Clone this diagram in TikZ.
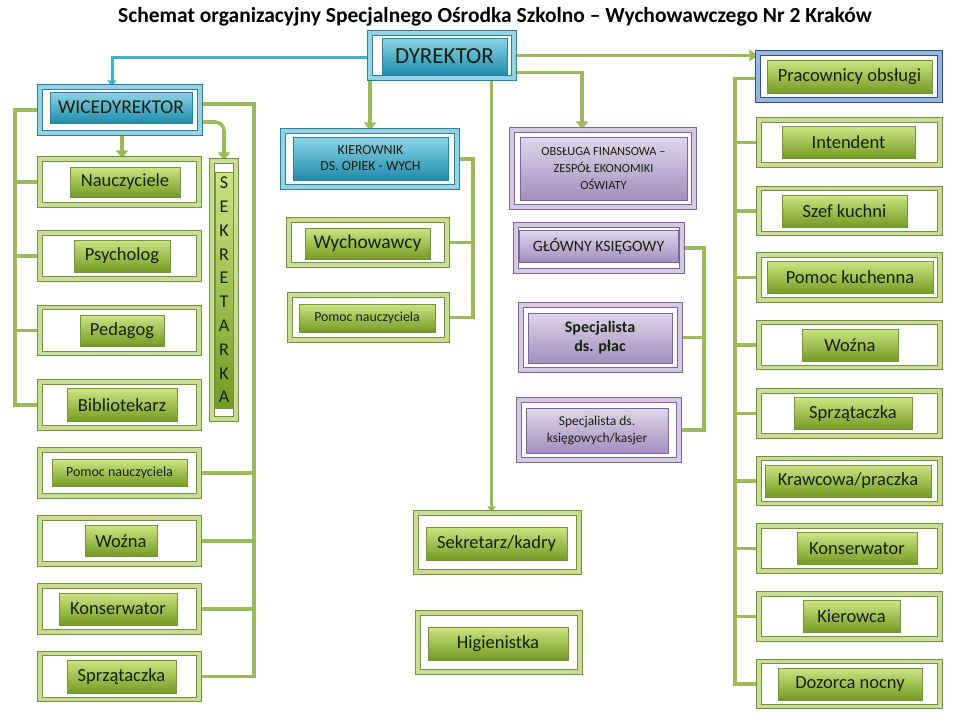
\documentclass[tikz,border=0pt]{standalone}
\usepackage{fontspec}
\setmainfont{Carlito}
\usetikzlibrary{arrows.meta,positioning,backgrounds}
\definecolor{olgreen}{RGB}{155,187,89}
\definecolor{olgreendk}{RGB}{118,146,60}
\definecolor{olgreenlt}{RGB}{200,220,150}
\definecolor{olboxtop}{RGB}{205,228,130}
\definecolor{olboxbot}{RGB}{115,155,35}
\definecolor{aqblue}{RGB}{75,172,198}
\definecolor{aqbluedk}{RGB}{40,130,160}
\definecolor{aqbluelt}{RGB}{150,210,226}
\definecolor{aqboxtop}{RGB}{140,212,232}
\definecolor{aqboxbot}{RGB}{30,140,172}
\definecolor{lvpurple}{RGB}{178,161,199}
\definecolor{lvpurpledk}{RGB}{128,100,162}
\definecolor{lvpurplelt}{RGB}{212,202,226}
\definecolor{lvboxtop}{RGB}{222,214,234}
\definecolor{lvboxbot}{RGB}{162,142,190}
\definecolor{nvblue}{RGB}{79,129,189}
\definecolor{nvbluedk}{RGB}{40,80,140}
\definecolor{nvbluelt}{RGB}{150,182,220}
\definecolor{ink}{RGB}{22,32,12}
\tikzset{
  gframe/.style={draw=olgreendk, line width=1.2pt, double=olgreenlt, double distance=3.2pt,
                 fill=white, inner sep=0pt, minimum width=159pt, minimum height=46pt},
  bframe/.style={gframe, draw=aqbluedk, double=aqbluelt},
  pframe/.style={gframe, draw=lvpurpledk, double=lvpurplelt},
  nframe/.style={gframe, draw=nvbluedk, double=nvbluelt},
  gbox/.style={rectangle, inner sep=0pt, top color=olboxtop, bottom color=olboxbot,
               draw=olgreendk, line width=0.6pt, text=ink, align=center,
               minimum height=32pt, font=\fontsize{18.5}{20}\selectfont},
  bbox/.style={gbox, top color=aqboxtop, bottom color=aqboxbot, draw=aqbluedk},
  pbox/.style={gbox, top color=lvboxtop, bottom color=lvboxbot, draw=lvpurpledk},
  link/.style={draw=olgreen, line width=3.6pt},
  garrow/.style={link, -{Triangle[width=12pt,length=8pt]}},
  barrow/.style={draw=aqblue, line width=3pt, -{Triangle[width=9pt,length=6pt]}},
  thinarrow/.style={draw=olgreen, line width=2.4pt, -{Triangle[width=8pt,length=6pt]}},
  heading/.style={font=\bfseries\fontsize{21.5}{23}\selectfont, text=black},
}
\begin{document}
\begin{tikzpicture}[x=1pt, y=-1pt]
\useasboundingbox (0,0) rectangle (960,720);

\node[heading] (title) at (495,17)
  {Schemat organizacyjny Specjalnego Ośrodka Szkolno – Wychowawczego Nr 2 Kraków};

% ================= top: director =================
\node[bframe, minimum width=144pt, minimum height=45pt] (fDyr) at (442,55.5) {};
\node[bbox, minimum width=125pt, minimum height=37pt, font=\fontsize{23}{25}\selectfont]
  (dyr) at (444.5,56.5) {DYREKTOR};

% ================= left: deputy director =================
\node[bframe, minimum width=160pt, minimum height=46pt] (fWice) at (120,110) {};
\node[bbox, minimum width=142pt, minimum height=31pt, font=\fontsize{19.5}{21}\selectfont]
  (wice) at (121,107.5) {WICEDYREKTOR};

\foreach \nm/\yy/\cx/\ww/\hh/\fs/\txt in {
    lnaucz/182/125/110/30/18.5/Nauczyciele,
    lpsych/256/122/96/32/18.5/Psycholog,
    lpeda/330.5/122/84/31/18.5/Pedagog,
    lbibl/405/122/110/33/18.5/Bibliotekarz,
    lpomoc/473/119.5/135/27/14/Pomoc nauczyciela,
    lwozna/541/121/72/31/18.5/Woźna,
    lkons/609/118/118/32/18.5/Konserwator,
    lsprz/676.5/121.5/109/33/18.5/Sprzątaczka}
{
  \node[gframe] (f\nm) at (119.5,\yy) {};
  \node[gbox, minimum width=\ww pt, minimum height=\hh pt, font=\fontsize{\fs}{\fs}\selectfont]
    (\nm) at (\cx,\yy) {\txt};
}

\node[gframe, minimum width=24pt, minimum height=258pt] (fSek) at (224,290) {};
\node[gbox, minimum width=18pt, minimum height=236pt, font=\fontsize{18}{23.8}\selectfont]
  (sek) at (224,290) {S\\E\\K\\R\\E\\T\\A\\R\\K\\A};

% ================= middle: care and education =================
\node[bframe, minimum width=174pt, minimum height=56pt] (fKier) at (370,159) {};
\node[bbox, minimum width=155pt, minimum height=43pt, font=\fontsize{13.8}{16}\selectfont]
  (kier) at (370.5,158.5) {KIEROWNIK\\DS. OPIEK - WYCH};

\node[gframe, minimum width=158pt, minimum height=45pt] (fWych) at (368,242.5) {};
\node[gbox, minimum width=125pt, minimum height=31pt, font=\fontsize{19.5}{21}\selectfont]
  (wych) at (367.5,243.5) {Wychowawcy};

\node[gframe, minimum width=157pt, minimum height=45pt] (fPomoc) at (368.5,317.5) {};
\node[gbox, minimum width=136pt, minimum height=28pt, font=\fontsize{13.8}{14}\selectfont]
  (pomoc) at (367,318) {Pomoc nauczyciela};

\node[gframe, minimum width=163pt, minimum height=59pt] (fSekr) at (497.5,542.5) {};
\node[gbox, minimum width=141pt, minimum height=33pt] (sekr) at (496.5,543.5) {Sekretarz/kadry};

\node[gframe, minimum width=162pt, minimum height=59pt] (fHig) at (499,642.5) {};
\node[gbox, minimum width=140pt, minimum height=33pt] (hig) at (498,643.5) {Higienistka};

% ================= finance =================
\node[pframe, minimum width=182pt, minimum height=77pt] (fObs) at (603,168.5) {};
\node[pbox, minimum width=167pt, minimum height=63pt, font=\fontsize{12.4}{17}\selectfont]
  (obs) at (603.5,168.5) {OBSŁUGA FINANSOWA –\\ZESPÓŁ EKONOMIKI\\OŚWIATY};

\node[pframe, minimum width=166pt, minimum height=46pt] (fGlow) at (599,248) {};
\node[pbox, minimum width=159pt, minimum height=32pt, font=\fontsize{15.8}{17}\selectfont]
  (glow) at (598.5,246) {GŁÓWNY KSIĘGOWY};

\node[pframe, minimum width=159pt, minimum height=65pt] (fPlac) at (600.5,337.5) {};
\node[pbox, minimum width=144pt, minimum height=50pt, font=\bfseries\fontsize{16}{19}\selectfont]
  (plac) at (600,338) {Specjalista\\ds. płac};

\node[pframe, minimum width=160pt, minimum height=60pt] (fKas) at (599,430) {};
\node[pbox, minimum width=142pt, minimum height=45pt, font=\fontsize{13.5}{17}\selectfont]
  (kas) at (597,430.5) {Specjalista ds.\\księgowych/kasjer};

% ================= right: service staff =================
\node[nframe, minimum width=182pt, minimum height=47pt] (fPrac) at (849,76.5) {};
\node[gbox, minimum width=165pt, minimum height=33pt] (prac) at (849.5,76.5) {Pracownicy obsługi};

\foreach \nm/\yy/\cx/\ww/\txt in {
    rint/142.5/848.5/133/Intendent,
    rszef/211/844.5/125/Szef kuchni,
    rkuch/277.5/850/166/Pomoc kuchenna,
    rwozna/345/850/96/Woźna,
    rsprz/413.5/853/118/Sprzątaczka,
    rkraw/481/848/166/{Krawcowa/praczka},
    rkons/548.5/857/120/Konserwator,
    rkier/616.5/851.5/97/Kierowca,
    rdoz/684/850/144/Dozorca nocny}
{
  \node[gframe, minimum width=181pt, minimum height=45pt] (f\nm) at (849.5,\yy) {};
  \node[gbox, minimum width=\ww pt] (\nm) at (\cx,\yy) {\txt};
}

% ================= connectors =================
\coordinate (lbus) at (15,0);
\coordinate (rbus) at (254,0);
\coordinate (kbus) at (473,0);
\coordinate (gbus) at (704,0);
\coordinate (pbus) at (735,0);

\begin{scope}[on background layer]
  \draw[barrow] ([yshift=-2pt]fDyr.west) -| ([xshift=-8pt]fWice.north);
  \draw[garrow] (fDyr.east) -- (fDyr.east -| fPrac.west);
  \draw[garrow] (fKier.north |- fDyr.south) -- (fKier.north);
  \draw[garrow] ([yshift=-17pt]fDyr.east) -| ([xshift=-21pt]fObs.north);
  \draw[thinarrow] ([xshift=-6pt]fSekr.north |- fDyr.south) -- ([xshift=-6pt]fSekr.north);

  \draw[garrow] ([xshift=2pt]fWice.south) -- ([xshift=2pt]fWice.south |- flnaucz.north);
  \draw[garrow, rounded corners=9pt] ([yshift=-12pt]fWice.east) -| (fSek.north);

  \draw[link] (fWice.west) -- (fWice.west -| lbus) |- (flbibl.west);
  \foreach \nm in {lnaucz,lpsych,lpeda}
    \draw[link] (f\nm.west) -- (f\nm.west -| lbus);

  \draw[link] ([yshift=6pt]fWice.east) -| (rbus |- flsprz.east) -- (flsprz.east);
  \foreach \nm in {lpomoc,lwozna,lkons}
    \draw[link] (f\nm.east) -- (f\nm.east -| rbus);

  \draw[link] (fKier.east) -| (kbus |- fPomoc.east) -- (fPomoc.east);
  \draw[link] (fWych.east) -- (fWych.east -| kbus);

  \draw[link] (fGlow.east) -| (gbus |- fKas.east) -- (fKas.east);
  \draw[link] (fPlac.east) -- (fPlac.east -| gbus);

  \draw[link] ([yshift=-2pt]fPrac.west) -| (pbus |- frdoz.west) -- (frdoz.west);
  \foreach \nm in {rint,rszef,rkuch,rwozna,rsprz,rkraw,rkons,rkier}
    \draw[link] (f\nm.west) -- (f\nm.west -| pbus);
\end{scope}
\end{tikzpicture}
\end{document}
